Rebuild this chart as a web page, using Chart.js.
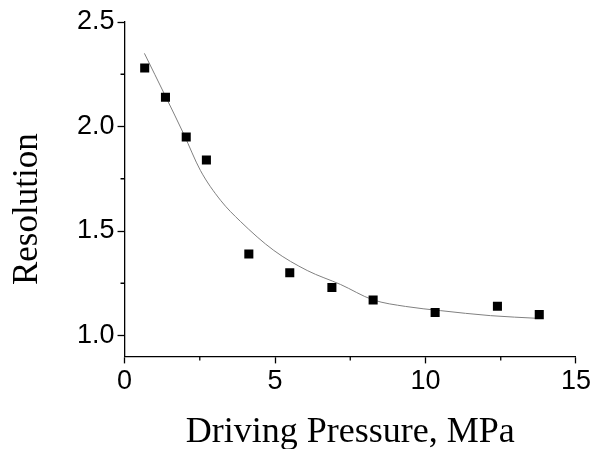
<!DOCTYPE html>
<html>
<head>
<meta charset="utf-8">
<script src="https://cdn.jsdelivr.net/npm/chart.js@4"></script>
<style>
  html, body { margin: 0; padding: 0; background: #fff; }
  #wrap { width: 593px; height: 449px; }
</style>
</head>
<body>
<div id="wrap"><canvas id="resChart" width="593" height="449"></canvas></div>
<script>
// 測定点 (駆動圧 MPa, 分解能)
const pressure = [0.67, 1.36, 2.05, 2.72, 4.13, 5.49, 6.89, 8.26, 10.32, 12.39, 13.78];
const resolution = [2.28, 2.14, 1.95, 1.84, 1.39, 1.30, 1.23, 1.17, 1.11, 1.14, 1.10];

// フィット曲線
const fitX = [0.66, 1.36, 1.97, 2.52, 3.19, 3.85, 4.96, 6.07, 7.18, 8.25, 9.34, 10.5, 12.16, 13.75];
const fitY = [2.35, 2.145, 1.963, 1.79, 1.647, 1.546, 1.407, 1.311, 1.244, 1.171, 1.139, 1.119, 1.095, 1.082];

// 目盛り
const xMajor = [0, 5, 10, 15];
const xMinor = [2.5, 7.5, 12.5];
const yMajor = [1.0, 1.5, 2.0, 2.5];
const yMinor = [1.25, 1.75, 2.25];

const yTitle = 'Resolution';

const tickFont = { family: 'Liberation Sans', size: 27 };
const titleFont = { family: 'Liberation Serif', size: 35 };
const xTitleFont = { family: 'Liberation Serif', size: 36 };

// 副目盛りとY軸タイトルを描くプラグイン
const extras = {
    id: 'extras',
    afterDraw(chart) {
        const c = chart.ctx;
        const xs = chart.scales.x;
        const ys = chart.scales.y;
        const area = chart.chartArea;
        c.save();
        c.strokeStyle = '#000';
        c.lineWidth = 1.3;
        c.beginPath();
        xMinor.forEach(v => {
            const px = xs.getPixelForValue(v);
            c.moveTo(px, xs.top);
            c.lineTo(px, xs.top + 4);
        });
        yMinor.forEach(v => {
            const py = ys.getPixelForValue(v);
            c.moveTo(ys.right, py);
            c.lineTo(ys.right - 4, py);
        });
        c.stroke();

        // Y軸タイトル (元図では少し下寄り)
        c.translate(37, (area.top + area.bottom) / 2 + 20);
        c.rotate(-Math.PI / 2);
        c.font = titleFont.size + 'px "' + titleFont.family + '"';
        c.fillStyle = '#000';
        c.textAlign = 'center';
        c.textBaseline = 'alphabetic';
        c.fillText(yTitle, 0, 0);
        c.restore();
    }
};

const ctx = document.getElementById('resChart').getContext('2d');
new Chart(ctx, {
    type: 'scatter',
    data: {
        datasets: [{
            label: 'fit',
            data: fitX.map((x, i) => ({ x: x, y: fitY[i] })),
            showLine: true,
            borderColor: '#808080',
            borderWidth: 1,
            pointRadius: 0,
            cubicInterpolationMode: 'monotone',
            order: 2
        }, {
            label: 'data',
            data: pressure.map((x, i) => ({ x: x, y: resolution[i] })),
            pointStyle: 'rect',
            pointRadius: 6.4,
            backgroundColor: '#000',
            borderColor: '#000',
            borderWidth: 0,
            order: 1
        }]
    },
    options: {
        responsive: false,
        animation: false,
        layout: { padding: { left: 74, right: 4, top: 22, bottom: 0 } },
        plugins: { legend: { display: false }, tooltip: { enabled: false } },
        scales: {
            x: {
                type: 'linear',
                min: 0,
                max: 15,
                afterBuildTicks: s => { s.ticks = xMajor.map(v => ({ value: v })); },
                grid: { drawOnChartArea: false, tickLength: 7, tickColor: '#000', tickWidth: 1.3 },
                border: { color: '#000', width: 1.3 },
                ticks: { font: tickFont, color: '#000', padding: 2, maxRotation: 0 },
                title: { display: true, text: 'Driving Pressure, MPa', font: xTitleFont, color: '#000', padding: { top: 11, bottom: -5 } }
            },
            y: {
                type: 'linear',
                min: 0.9,
                max: 2.5,
                afterBuildTicks: s => { s.ticks = yMajor.map(v => ({ value: v })); },
                grid: { drawOnChartArea: false, tickLength: 7, tickColor: '#000', tickWidth: 1.3 },
                border: { color: '#000', width: 1.3 },
                ticks: { font: tickFont, color: '#000', padding: 3, callback: v => v.toFixed(1) }
            }
        }
    },
    plugins: [extras]
});
</script>
</body>
</html>
